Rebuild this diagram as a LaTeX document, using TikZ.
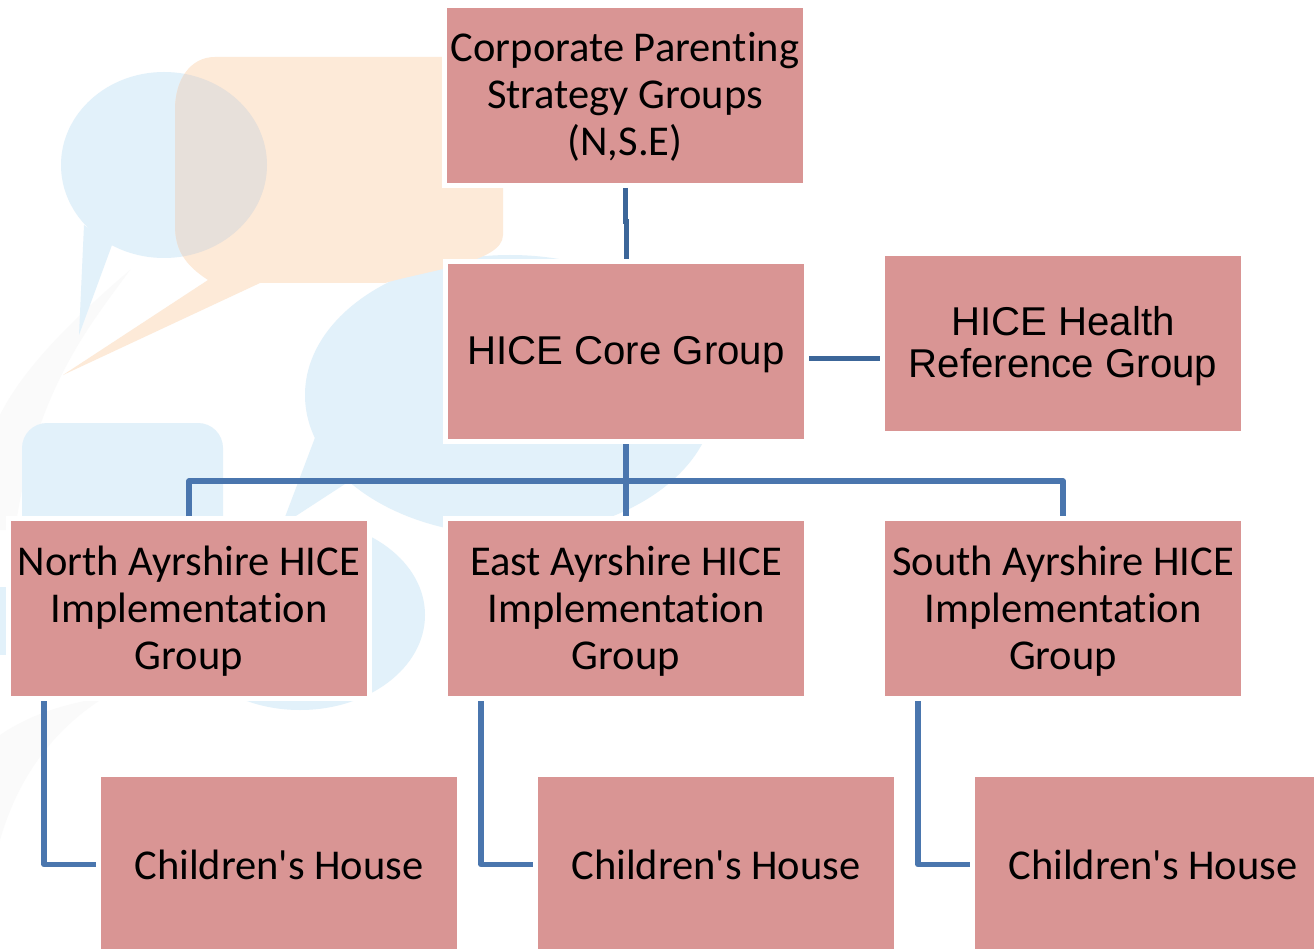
\documentclass[tikz,border=0pt]{standalone}
\usepackage{fontspec}
\setmainfont{Carlito}[Ligatures={TeXOff,NoCommon}]
\newfontfamily\arialfont{Liberation Sans}
\definecolor{boxfill}{HTML}{D99594}
\definecolor{linkblue}{HTML}{4A76AE}
\definecolor{linkdark}{HTML}{3C6699}
\definecolor{bgblue}{HTML}{E2F1FA}
\definecolor{bgorange}{HTML}{FDEAD8}
\definecolor{bgmix}{HTML}{E7E0DA}
\definecolor{bgswoosh}{HTML}{FAFAFA}
\newcommand{\upstrut}[1]{\rule{0pt}{#1pt}}
\tikzset{
  x=1pt,y=-1pt,
  orgbox/.style={draw=white,line width=5pt,fill=boxfill,minimum width=361pt,minimum height=180pt,inner sep=0pt,align=center,anchor=center,font=\fontsize{42.5}{47}\selectfont},
  arialbox/.style={orgbox,font=\arialfont\fontsize{40.2}{42}\selectfont},
  link/.style={linkblue,line width=5.5pt,line join=round},
  linkd/.style={linkdark,line width=5pt},
}
\begin{document}
\begin{tikzpicture}
\clip (0,0) rectangle (1314,949);
\useasboundingbox (0,0) rectangle (1314,949);
\fill[white] (0,0) rectangle (1314,949);
% background
\fill[bgswoosh] (0,415) .. controls (20,375) and (60,330) .. (130,270) .. controls (90,325) and (35,390) .. (15,530) -- (0,530) -- cycle;
\fill[bgswoosh] (0,735) .. controls (30,715) and (60,705) .. (105,697) .. controls (60,725) and (20,770) .. (0,840) -- cycle;
\fill[bgblue] (164,165) ellipse [x radius=103,y radius=93];
\fill[bgblue] (84,225) -- (112,245) -- (79,335) -- cycle;
\fill[bgblue] (510,395) ellipse [x radius=205,y radius=140];
\fill[bgblue] (316,435) -- (282,525) -- (345,484) -- (345,420) -- cycle;
\fill[bgblue] (300,615) ellipse [x radius=125,y radius=95];
\fill[bgblue,rounded corners=25pt] (22,423) rectangle (223,560);
\fill[bgblue] (0,587) rectangle (8,655);
\def\orangepath{(215,57) -- (503,57) -- (503,235) .. controls (503,262) and (430,270) .. (385,283) -- (260,283) -- (63,375) -- (208,280) .. controls (185,265) and (175,250) .. (175,225) -- (175,110) .. controls (175,80) and (190,57) .. (215,57) -- cycle}
\fill[bgorange] \orangepath;
\begin{scope}
  \clip \orangepath;
  \fill[bgmix] (164,165) ellipse [x radius=103,y radius=93];
\end{scope}
% nodes
\node[orgbox] (top) at (625,95.5) {\upstrut{31}Corporate Parenting\\Strategy Groups\\(N,S.E)};
\node[arialbox] (core) at (626,351.5) {\upstrut{35}HICE Core Group};
\node[arialbox] (health) at (1063,343.5) {\upstrut{34}HICE Health\\Reference Group};
\node[orgbox] (north) at (189,608.5) {\upstrut{34}North Ayrshire HICE\\Implementation\\Group};
\node[orgbox] (east) at (626,608.5) {\upstrut{34}East Ayrshire HICE\\Implementation\\Group};
\node[orgbox] (south) at (1063,608.5) {\upstrut{34}South Ayrshire HICE\\Implementation\\Group};
\node[orgbox] (housen) at (279,864.5) {Children's House};
\node[orgbox] (housee) at (716,864.5) {Children's House};
\node[orgbox] (houses) at (1153,864.5) {Children's House};
\coordinate (bus) at (0,481);
\coordinate (jog) at (625.5,222);
% connectors
\draw[linkd] (top.south) |- (jog) -| (core.north);
\draw[linkd] ([yshift=-7pt]core.east) -- ([yshift=-15pt]health.west);
\draw[link] (core.south) -- (east.north);
\draw[link] (north.north) |- (bus -| south.north) -- (south.north);
\draw[link] ([xshift=-145pt]north.south) |- (housen.west);
\draw[link] ([xshift=-145pt]east.south) |- (housee.west);
\draw[link] ([xshift=-145pt]south.south) |- (houses.west);
\end{tikzpicture}
\end{document}
